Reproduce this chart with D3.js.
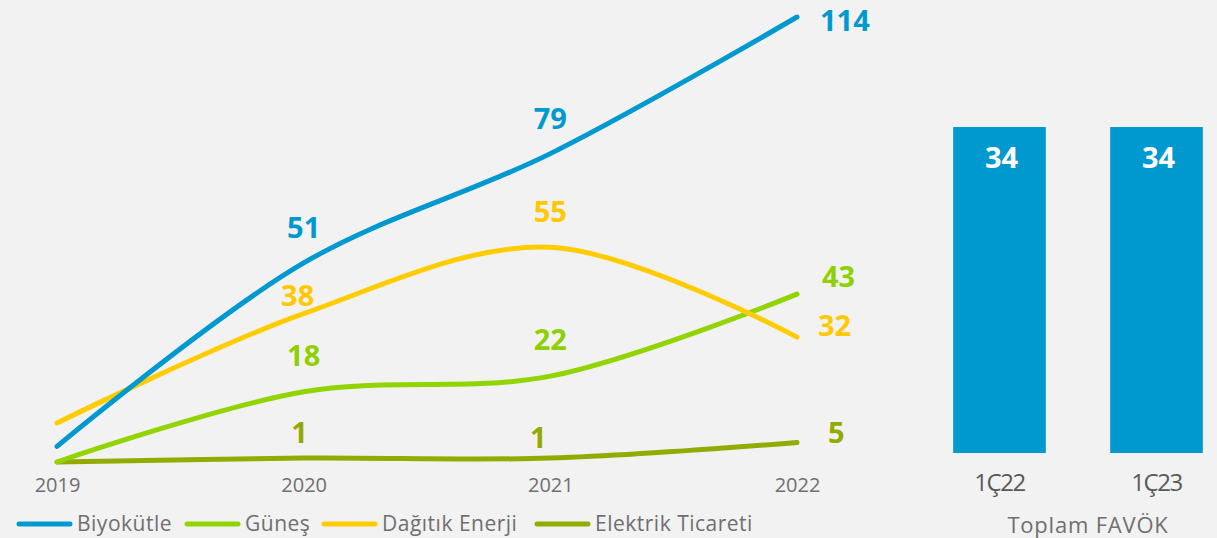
<!DOCTYPE html>
<html>
<head>
<meta charset="utf-8">
<script src="https://cdn.jsdelivr.net/npm/d3@7"></script>
<style>
  html, body { margin: 0; padding: 0; background: #f2f2f2; }
  svg { display: block; font-family: "Open Sans", sans-serif; }
</style>
</head>
<body>
<svg id="chart" width="1217" height="538"></svg>
<script>
// line chart data
var years = ["2019", "2020", "2021", "2022"];
var seriesNames = ["Biyokütle", "Güneş", "Dağıtık Enerji", "Elektrik Ticareti"];
var biyokutle = [4, 51, 79, 114];
var gunes = [0, 18, 22, 43];
var dagitik = [10, 38, 55, 32];
var elektrik = [0, 1, 1, 5];
// which points get a value label (2019 has none)
var labelled = [false, true, true, true];

// bar chart data
var barCats = ["1Ç22", "1Ç23"];
var barValues = [34, 34];
var barTitle = "Toplam FAVÖK";

var colors = ["#0099cf", "#92d400", "#ffcc00", "#93ab00"];
var labelColors = ["#0099cf", "#8fd100", "#ffc800", "#93ab00"];

var allSeries = [biyokutle, gunes, dagitik, elektrik];

// label nudges (layout only): [dx, dy] from the point
var labelNudge = [
  [null, [0, -25], [0, -25], [23, 14]],
  [null, [0, -26], [0, -26], [25, -7]],
  [null, [-6, -8], [0, -25], [21, -1]],
  [null, [-4, -15], [-12, -10], [31, 1]]
];

var svg = d3.select("#chart");

var x = d3.scalePoint().domain(years).range([57, 797]);
var y = d3.scaleLinear().domain([0, 114]).range([462, 17]);

// x axis labels
var xAxis = d3.axisBottom(x).tickSize(0).tickPadding(0);
var gx = svg.append("g").attr("transform", "translate(0,478)").call(xAxis);
gx.select(".domain").remove();
gx.selectAll("text")
  .attr("dy", "0.71em")
  .style("font-size", "20px")
  .style("font-family", "Open Sans, sans-serif")
  .attr("fill", "#6f6f6f");

var line = d3.line()
  .x(function(d, i) { return x(years[i]); })
  .y(function(d) { return y(d); })
  .curve(d3.curveCatmullRom.alpha(0.5));

// draw lines, last series first so Biyokütle sits on top
var order = [3, 1, 2, 0];
svg.append("g").selectAll("path")
  .data(order)
  .enter().append("path")
    .attr("d", function(s) { return line(allSeries[s]); })
    .attr("fill", "none")
    .attr("stroke", function(s) { return colors[s]; })
    .attr("stroke-width", 5)
    .attr("stroke-linecap", "round")
    .attr("stroke-linejoin", "round");

// value labels
allSeries.forEach(function(values, s) {
  var pts = values.map(function(v, i) { return {v: v, i: i}; })
    .filter(function(p) { return labelled[p.i]; });
  svg.append("g").selectAll("text")
    .data(pts)
    .enter().append("text")
      .attr("x", function(p) { return x(years[p.i]) + labelNudge[s][p.i][0]; })
      .attr("y", function(p) { return y(p.v) + labelNudge[s][p.i][1]; })
      .attr("text-anchor", function(p) { return p.i === years.length - 1 ? "start" : "middle"; })
      .attr("fill", labelColors[s])
      .style("font-size", "29px")
      .style("font-weight", "700")
      .text(function(p) { return p.v; });
});

// legend
var legendX = [17, 185, 322, 535];
var legend = svg.append("g").attr("transform", "translate(0,524)");
var item = legend.selectAll("g")
  .data(seriesNames)
  .enter().append("g")
    .attr("transform", function(d, i) { return "translate(" + legendX[i] + ",0)"; });
item.append("line")
  .attr("x1", 2).attr("x2", 53)
  .attr("stroke", function(d, i) { return colors[i]; })
  .attr("stroke-width", 5)
  .attr("stroke-linecap", "round");
item.append("text")
  .attr("x", 60)
  .attr("dy", "0.35em")
  .attr("fill", "#6f6f6f")
  .style("font-size", "21px")
  .style("letter-spacing", "0.5px")
  .text(function(d) { return d; });

// bar chart
var bx = d3.scaleBand().domain(barCats).range([921, 1235]).paddingInner(0.41).paddingOuter(0.205);
var by = d3.scaleLinear().domain([0, 40]).range([453, 69.5]);

svg.append("g").selectAll("rect")
  .data(barValues)
  .enter().append("rect")
    .attr("x", function(d, i) { return bx(barCats[i]); })
    .attr("y", function(d) { return by(d); })
    .attr("width", bx.bandwidth())
    .attr("height", function(d) { return by(0) - by(d); })
    .attr("fill", "#0099cf");

svg.append("g").selectAll("text")
  .data(barValues)
  .enter().append("text")
    .attr("x", function(d, i) { return bx(barCats[i]) + bx.bandwidth() / 2 + 2; })
    .attr("y", function(d) { return by(d) + 41; })
    .attr("text-anchor", "middle")
    .attr("fill", "#ffffff")
    .style("font-size", "29px")
    .style("font-weight", "700")
    .text(function(d) { return d; });

var bAxis = d3.axisBottom(bx).tickSize(0).tickPadding(0);
var gb = svg.append("g").attr("transform", "translate(0,474)").call(bAxis);
gb.select(".domain").remove();
gb.selectAll("text")
  .attr("dy", "0.71em")
  .style("font-size", "24px")
  .style("font-family", "Open Sans, sans-serif")
  .style("letter-spacing", "-1.5px")
  .attr("fill", "#595959");

svg.append("text")
  .attr("x", 1088)
  .attr("y", 533)
  .attr("text-anchor", "middle")
  .attr("fill", "#6f6f6f")
  .style("font-size", "22px")
  .style("letter-spacing", "0.8px")
  .text(barTitle);
</script>
</body>
</html>
